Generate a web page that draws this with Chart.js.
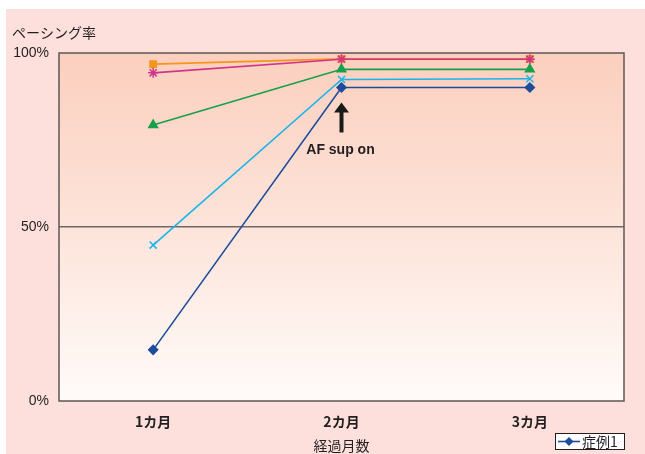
<!DOCTYPE html>
<html>
<head>
<meta charset="utf-8">
<script src="https://cdn.jsdelivr.net/npm/chart.js@4"></script>
<style>
    body { margin: 0; background: #fff; }
    #wrap { position: absolute; left: 6px; top: 9px; width: 639px; height: 445px; background: #fde0dc; }
</style>
</head>
<body>
<div id="wrap"><canvas id="pacingChart" width="639" height="445"></canvas></div>
<script>
const months = ['1カ月', '2カ月', '3カ月'];
const yTicks = [0, 50, 100];
const case1 = [14.7, 90.1, 90.1];
const case2 = [44.8, 92.4, 92.6];
const case3 = [79.3, 95.3, 95.3];
const case4 = [94.3, 98.2, 98.2];
const case5 = [96.8, 98.3, 98.3];
const seriesLabels = ['症例1', '症例2', '症例3', '症例4', '症例5'];
const titleText = 'ペーシング率';
const xTitleText = '経過月数';
const noteText = 'AF sup on';

const textColor = '#231f20';
const latinFont = '"Liberation Sans", Arial, "Noto Sans CJK JP", sans-serif';
const jpFont = '"Noto Sans CJK JP", "Liberation Sans", sans-serif';

function makeSeries(label, data, color, style, radius) {
    return {
        label: label,
        data: data,
        borderColor: color,
        backgroundColor: color,
        pointBackgroundColor: color,
        pointBorderColor: color,
        pointStyle: style,
        pointRadius: radius,
        pointBorderWidth: 1.5,
        borderWidth: 1.6,
        tension: 0
    };
}

const decorPlugin = {
    id: 'decor',
    beforeDraw(chart) {
        const { ctx, chartArea: a } = chart;
        const g = ctx.createLinearGradient(0, a.top, 0, a.bottom);
        g.addColorStop(0, '#fbcfbe');
        g.addColorStop(0.5, '#fde4da');
        g.addColorStop(1, '#fffbf9');
        ctx.save();
        ctx.fillStyle = g;
        ctx.fillRect(a.left, a.top, a.right - a.left, a.bottom - a.top);
        ctx.restore();
    },
    beforeDatasetsDraw(chart) {
        const { ctx, chartArea: a } = chart;
        ctx.save();
        ctx.strokeStyle = '#5e5656';
        ctx.lineWidth = 1.5;
        ctx.strokeRect(a.left, a.top, a.right - a.left, a.bottom - a.top);
        ctx.restore();
    },
    afterDraw(chart) {
        const { ctx } = chart;
        const x = chart.scales.x;
        const y = chart.scales.y;
        ctx.save();

        // axis title top-left
        ctx.fillStyle = textColor;
        ctx.font = '14px ' + jpFont;
        ctx.textAlign = 'left';
        ctx.textBaseline = 'middle';
        ctx.fillText(titleText, 6, 24);

        // arrow under case 1 at 2カ月
        const ax = x.getPixelForValue(1);
        const tip = y.getPixelForValue(case1[1]) + 15;
        ctx.fillStyle = '#1a1a1a';
        ctx.beginPath();
        ctx.moveTo(ax, tip);
        ctx.lineTo(ax - 7.5, tip + 10);
        ctx.lineTo(ax + 7.5, tip + 10);
        ctx.closePath();
        ctx.fill();
        ctx.fillRect(ax - 2, tip + 9, 4, 21);
        ctx.fillStyle = textColor;
        ctx.font = 'bold 14px ' + latinFont;
        ctx.textAlign = 'center';
        ctx.fillText(noteText, ax - 1, tip + 48);

        // legend box, only first series
        const lx = 549, ly = 424, lw = 69, lh = 16;
        ctx.fillStyle = '#ffffff';
        ctx.fillRect(lx, ly, lw, lh);
        ctx.strokeStyle = '#231f20';
        ctx.lineWidth = 1;
        ctx.strokeRect(lx + 0.5, ly + 0.5, lw, lh);
        const ds = chart.data.datasets[0];
        ctx.strokeStyle = ds.borderColor;
        ctx.lineWidth = 1.6;
        ctx.beginPath();
        ctx.moveTo(lx + 3, ly + lh / 2 + 0.5);
        ctx.lineTo(lx + 25, ly + lh / 2 + 0.5);
        ctx.stroke();
        ctx.fillStyle = ds.borderColor;
        ctx.beginPath();
        const cx = lx + 14, cy = ly + lh / 2 + 0.5;
        ctx.moveTo(cx, cy - 4.5);
        ctx.lineTo(cx + 4.5, cy);
        ctx.lineTo(cx, cy + 4.5);
        ctx.lineTo(cx - 4.5, cy);
        ctx.closePath();
        ctx.fill();
        ctx.fillStyle = textColor;
        ctx.font = '14px ' + jpFont;
        ctx.textAlign = 'left';
        ctx.fillText(ds.label, lx + 27, cy);

        ctx.restore();
    }
};

new Chart(document.getElementById('pacingChart').getContext('2d'), {
    type: 'line',
    data: {
        labels: months,
        datasets: [
            makeSeries(seriesLabels[0], case1, '#1d4c9c', 'rectRot', 4.5),
            makeSeries(seriesLabels[1], case2, '#1ab3ea', 'crossRot', 5),
            makeSeries(seriesLabels[2], case3, '#16a04a', 'triangle', 5),
            makeSeries(seriesLabels[3], case4, '#d1348a', 'star', 5),
            makeSeries(seriesLabels[4], case5, '#f7941d', 'rect', 4.5)
        ]
    },
    options: {
        responsive: false,
        animation: false,
        devicePixelRatio: 1,
        layout: { padding: { top: 44, right: 21, left: 0, bottom: 0 } },
        plugins: {
            legend: { display: false },
            tooltip: { enabled: false }
        },
        scales: {
            x: {
                offset: true,
                grid: { display: false, drawTicks: false },
                border: { display: false },
                ticks: {
                    padding: 12,
                    color: textColor,
                    font: { family: jpFont, size: 14, weight: 'bold' }
                },
                title: {
                    display: true,
                    text: xTitleText,
                    color: textColor,
                    padding: { top: 0, bottom: 0 },
                    font: { family: jpFont, size: 14 }
                },
                afterFit(scale) { scale.height = 53; }
            },
            y: {
                min: 0,
                max: 100,
                afterBuildTicks(scale) { scale.ticks = yTicks.map(v => ({ value: v })); },
                grid: {
                    drawTicks: false,
                    color: c => (c.tick && c.tick.value === 50) ? '#6e6868' : 'rgba(0,0,0,0)',
                    lineWidth: 1.5
                },
                border: { display: false },
                ticks: {
                    padding: 10,
                    color: textColor,
                    font: { family: latinFont, size: 14 },
                    callback: v => v + '%'
                },
                afterFit(scale) { scale.width = 53; }
            }
        }
    },
    plugins: [decorPlugin]
});
</script>
</body>
</html>
